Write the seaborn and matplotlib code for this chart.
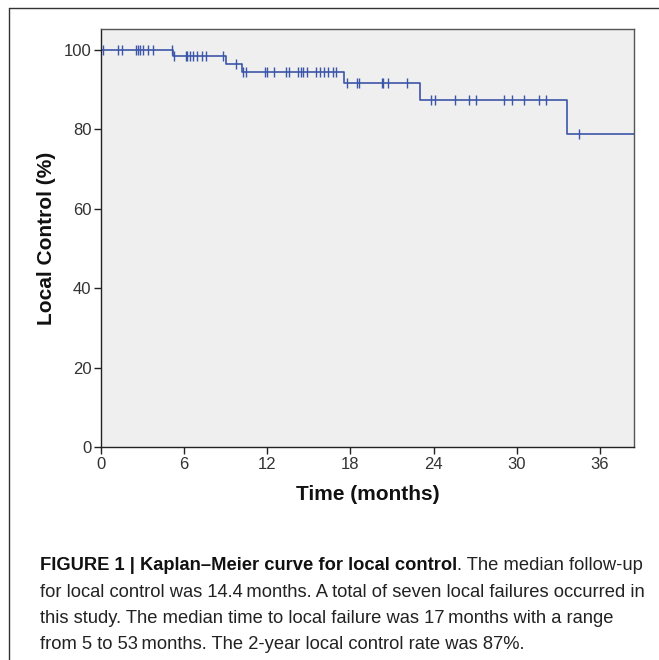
import numpy as np
import pandas as pd
import matplotlib
matplotlib.use("Agg")
import matplotlib.pyplot as plt
from matplotlib.lines import Line2D
import seaborn as sns

# ---- data ----
event_times = [0.0, 5.2, 9.05, 10.15, 17.55, 23.0, 33.6, 53.0]
survival_pct = [100.0, 98.5, 96.5, 94.4, 91.6, 87.5, 78.8, 78.8]
censor_times = [0.15, 1.25, 1.54, 2.5, 2.65, 2.81, 3.05, 3.39, 3.78, 5.1,
                5.3, 6.13, 6.23, 6.42, 6.66, 6.95, 7.26, 7.55, 8.78,
                9.72,
                10.27, 10.46, 11.8, 12.0, 12.5, 13.35, 13.6, 14.24, 14.41, 14.6, 14.84,
                15.51, 15.8, 16.1, 16.35, 16.76, 16.98,
                17.73, 18.45, 18.62, 20.25, 20.37, 20.73, 22.1,
                23.79, 24.1, 25.54, 26.57, 27.06, 29.07, 29.63, 30.52, 31.6, 32.1,
                34.5]
x_ticks = [0, 6, 12, 18, 24, 30, 36]
y_ticks = [0, 20, 40, 60, 80, 100]

caption_bold = "FIGURE 1 | Kaplan\u2013Meier curve for local control"
caption_lines = [
    ". The median follow-up",
    "for local control was 14.4\u2009months. A total of seven local failures occurred in",
    "this study. The median time to local failure was 17\u2009months with a range",
    "from 5 to 53\u2009months. The 2-year local control rate was 87%.",
]

# ---- build frames ----
curve = pd.DataFrame({"time": event_times, "surv": survival_pct})
ev = np.array(event_times)
sv = np.array(survival_pct)
idx = np.searchsorted(ev, np.array(censor_times), side="right") - 1
cens = pd.DataFrame({"time": censor_times, "surv": sv[idx]})

sns.set_style("white")
plt.rcParams["font.family"] = ["Liberation Sans", "DejaVu Sans"]

W, H = 659, 660
fig = plt.figure(figsize=(W / 100, H / 100), dpi=100)

def fx(px):
    return px / W

def fy(py):
    return 1 - py / H

ax = fig.add_axes([fx(101), fy(447), fx(634) - fx(101), fy(29) - fy(447)])
ax.set_facecolor("#efefef")

line_col = "#3b55a8"
sns.lineplot(data=curve, x="time", y="surv", ax=ax, color=line_col,
             drawstyle="steps-post", estimator=None, sort=False, linewidth=1.2)
sns.scatterplot(data=cens, x="time", y="surv", ax=ax, marker="|", s=45,
                color=line_col, linewidth=1.0)

ax.set_xlim(0, 38.46)
ax.set_ylim(0, 105.3)
ax.set_xticks(x_ticks)
ax.set_yticks(y_ticks)
ax.set_xticklabels([str(t) for t in x_ticks], fontsize=12, color="#333333")
ax.set_yticklabels([str(t) for t in y_ticks], fontsize=12, color="#333333")
ax.tick_params(axis="both", direction="out", length=5, width=1, color="#222222", pad=2,
               bottom=True, left=True)
for s in ax.spines.values():
    s.set_color("#555555")
    s.set_linewidth(1.0)
ax.spines["left"].set_color("#222222")
ax.spines["bottom"].set_color("#222222")

ax.set_xlabel("")
ax.set_ylabel("")
fig.text(fx(368), fy(495), "Time (months)", ha="center", va="center",
         fontsize=15, fontweight="bold", color="#111111")
fig.text(fx(47), fy(238), "Local Control (%)", ha="center", va="center", rotation=90,
         fontsize=15, fontweight="bold", color="#111111")

# outer frame
fig.add_artist(Line2D([fx(9), fx(9)], [fy(8), 0], transform=fig.transFigure,
                      color="#333333", linewidth=1.0))
fig.add_artist(Line2D([fx(9), 1], [fy(8), fy(8)], transform=fig.transFigure,
                      color="#333333", linewidth=1.0))

# caption
cap_size = 13.2
baselines = [570, 597, 623, 649]
fig.canvas.draw()
r = fig.canvas.get_renderer()
tb = fig.text(fx(40), fy(baselines[0]), caption_bold, ha="left", va="baseline",
              fontsize=cap_size, fontweight="bold", color="#111111")
bb = tb.get_window_extent(renderer=r)
fig.text(bb.x1 / W, fy(baselines[0]), caption_lines[0], ha="left", va="baseline",
         fontsize=cap_size, color="#222222")
for line, b in zip(caption_lines[1:], baselines[1:]):
    fig.text(fx(40), fy(b), line, ha="left", va="baseline",
             fontsize=cap_size, color="#222222")

fig.savefig("out.png", dpi=100)
